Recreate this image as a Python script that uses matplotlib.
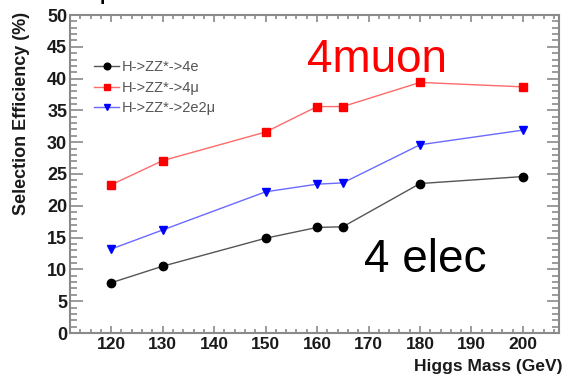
import matplotlib
matplotlib.use("Agg")
import matplotlib.pyplot as plt
from matplotlib.ticker import MultipleLocator

# Higgs mass points (GeV) and selection efficiencies (%) per decay channel
masses = [120, 130, 150, 160, 165, 180, 200]
eff_4e = [7.9, 10.5, 14.9, 16.6, 16.7, 23.5, 24.6]
eff_4mu = [23.3, 27.1, 31.6, 35.6, 35.6, 39.4, 38.7]
eff_2e2mu = [13.2, 16.2, 22.2, 23.4, 23.6, 29.6, 31.9]

labels = ["H->ZZ*->4e", "H->ZZ*->4\u03bc", "H->ZZ*->2e2\u03bc"]

plt.rcParams["font.family"] = ["Liberation Sans", "DejaVu Sans"]

fig = plt.figure(figsize=(5.64, 3.77), dpi=100)
ax = fig.add_axes([70 / 564, 1 - 333 / 377, 489 / 564, 318 / 377])

ax.plot(masses, eff_4e, color="#555555", lw=1.0, marker="o", ms=6,
        mfc="black", mec="black", label=labels[0])
ax.plot(masses, eff_4mu, color="#ff6a6a", lw=1.0, marker="s", ms=6,
        mfc="red", mec="red", label=labels[1])
ax.plot(masses, eff_2e2mu, color="#6a6aff", lw=1.0, marker="v", ms=6,
        mfc="blue", mec="blue", label=labels[2])

ax.set_xlim(112, 207)
ax.set_ylim(0, 50)
ax.xaxis.set_major_locator(MultipleLocator(10))
ax.xaxis.set_minor_locator(MultipleLocator(2))
ax.yaxis.set_major_locator(MultipleLocator(5))
ax.yaxis.set_minor_locator(MultipleLocator(1))

for s in ax.spines.values():
    s.set_color("#8a8a8a")
    s.set_linewidth(1.5)

ax.tick_params(axis="both", which="both", direction="in", colors="#8a8a8a",
               labelcolor="#1a1a1a", top=True, right=True, width=1.2)
ax.tick_params(axis="y", which="major", length=9, pad=2, labelsize=13)
ax.tick_params(axis="y", which="minor", length=5)
ax.tick_params(axis="x", which="major", length=5, pad=3, labelsize=12.5)
ax.tick_params(axis="x", which="minor", length=3)
for lbl in ax.get_xticklabels() + ax.get_yticklabels():
    lbl.set_fontweight("bold")

fig.text(22 / 564, 1 - 12 / 377, "Selection Efficiency (%)", rotation=90,
         ha="center", va="top", fontsize=13, fontweight="bold", color="#1a1a1a")
fig.text(563 / 564, 1 - 366 / 377, "Higgs Mass (GeV)", ha="right",
         va="center", fontsize=12.5, fontweight="bold", color="#1a1a1a")

leg = ax.legend(loc="upper left", bbox_to_anchor=(84 / 564, 1 - 50 / 377),
                bbox_transform=fig.transFigure, frameon=False, fontsize=10.5,
                handlelength=1.7, handletextpad=0.2, labelspacing=0.45,
                borderpad=0.2, markerscale=0.8)
for t in leg.get_texts():
    t.set_color("#555555")

fig.text(307 / 564, 1 - 72 / 377, "4muon", color="red", fontsize=33,
         va="baseline", ha="left")
fig.text(364 / 564, 1 - 272 / 377, "4 elec", color="black", fontsize=33,
         va="baseline", ha="left")

# descender of the clipped title line at the top edge
fig.text(100 / 564, 1.0, "p", fontsize=14, fontweight="bold",
         va="baseline", ha="left")

fig.savefig("out.png", dpi=100)
